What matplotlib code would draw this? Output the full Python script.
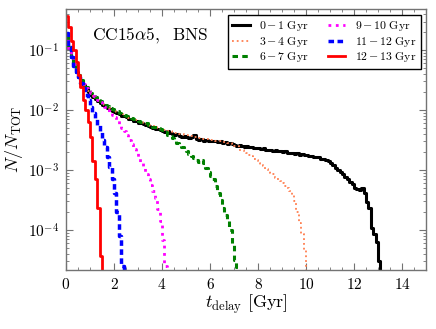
import numpy as np
import matplotlib
matplotlib.use("Agg")
import matplotlib.pyplot as plt
from matplotlib.ticker import FuncFormatter, MultipleLocator, LogLocator, NullFormatter

plt.rcParams['mathtext.fontset'] = 'cm'
plt.rcParams['font.family'] = ['DejaVu Serif']

bin_width = 0.1  # Gyr

labels = ['0-1', '3-4', '6-7', '9-10', '11-12', '12-13']

# histogram values, N/N_TOT in units of 1e-3, one value per 0.1 Gyr bin
age_0_1 = [178, 107, 76, 56, 44, 36, 30, 26, 23, 20,
           18.2, 16.6, 15.5, 14.1, 13.2, 12.3, 11.7, 11.0, 10.5, 9.8,
           9.3, 8.9, 8.7, 8.1, 7.9, 7.6, 7.2, 7.1, 6.6, 6.5,
           6.2, 6.0, 5.8, 5.6, 5.5, 5.2, 5.1, 4.9, 4.8, 4.7,
           4.4, 4.3, 4.4, 4.1, 4.0, 3.9, 4.0, 3.7, 3.6, 3.7,
           3.5, 3.4, 3.5, 3.9, 3.3, 3.2, 3.3, 3.1, 3.2, 3.0,
           3.1, 3.0, 3.0, 2.9, 3.0, 2.85, 2.9, 2.75, 2.8, 2.7,
           2.6, 2.55, 2.6, 2.5, 2.45, 2.5, 2.4, 2.45, 2.35, 2.3,
           2.35, 2.25, 2.3, 2.2, 2.15, 2.2, 2.1, 2.15, 2.05, 2.05,
           2.0, 2.05, 1.95, 1.9, 1.95, 1.85, 1.9, 1.8, 1.85, 1.75,
           1.78, 1.72, 1.74, 1.68, 1.62, 1.65, 1.55, 1.5, 1.45, 1.4,
           1.3, 1.2, 1.1, 1.0, 0.93, 0.85, 0.76, 0.72, 0.62, 0.58,
           0.5, 0.48, 0.46, 0.5, 0.42, 0.29, 0.23, 0.11, 0.085, 0.062,
           0.03]
age_3_4 = [170, 110, 78, 58, 46, 37, 31, 27, 23.5, 21,
           19, 17.2, 16, 14.8, 13.8, 12.8, 12.1, 11.4, 10.8, 10.2,
           9.7, 9.3, 8.9, 8.5, 8.2, 7.8, 7.5, 7.3, 7.0, 6.8,
           6.5, 6.3, 6.1, 5.9, 5.7, 5.5, 5.4, 5.2, 5.0, 4.9,
           4.8, 4.6, 4.5, 4.4, 4.3, 4.2, 4.1, 4.0, 3.95, 3.85,
           3.8, 3.7, 3.65, 3.6, 3.5, 3.45, 3.4, 3.35, 3.3, 3.25,
           3.2, 3.15, 3.1, 3.05, 3.0, 2.95, 2.9, 2.85, 2.8, 2.7,
           2.55, 2.5, 2.2, 2.15, 2.0, 1.95, 1.8, 1.7, 1.55, 1.45,
           1.3, 1.2, 1.15, 1.05, 0.95, 0.9, 0.85, 0.75, 0.7, 0.65,
           0.6, 0.55, 0.5, 0.45, 0.38, 0.3, 0.2, 0.13, 0.085, 0.047]
age_6_7 = [175, 112, 80, 59, 47, 38, 32, 27, 24, 21.5,
           19.5, 17.5, 16.5, 15, 14, 13, 12.3, 11.6, 11, 10.4,
           9.9, 9.5, 9.0, 8.7, 8.3, 8.0, 7.6, 7.4, 7.1, 6.9,
           6.6, 6.4, 6.2, 6.0, 5.7, 5.5, 5.3, 5.2, 5.0, 4.8,
           4.6, 4.3, 3.9, 3.63, 3.39, 3.09, 2.82, 2.63, 2.4, 2.24,
           2.04, 1.86, 1.74, 1.58, 1.48, 1.35, 1.45, 1.3, 1.07, 0.93,
           0.81, 0.71, 0.54, 0.41, 0.32, 0.23, 0.18, 0.14, 0.10, 0.056,
           0.032, 0.024]
age_9_10 = [185, 110, 78, 58, 46, 37, 31, 27, 23.5, 21,
            19, 17.2, 16, 14.8, 13.8, 12.8, 11.2, 10.0, 9.1, 8.3,
            7.6, 6.8, 5.9, 5.1, 4.5, 3.8, 3.2, 2.7, 2.24, 1.9,
            1.58, 1.32, 1.07, 0.87, 0.71, 0.56, 0.45, 0.34, 0.22, 0.14,
            0.068, 0.025]
age_11_12 = [190, 112, 76, 55, 43, 35, 28, 23, 18.2, 14.5,
             11.2, 8.9, 7.1, 5.6, 4.3, 3.2, 2.4, 1.66, 1.12, 0.71,
             0.41, 0.2, 0.079, 0.025]
age_12_13 = [370, 240, 141, 100, 63, 38, 24, 15, 10, 6.3,
             3.5, 1.4, 0.71, 0.23, 0.037]

series = [age_0_1, age_3_4, age_6_7, age_9_10, age_11_12, age_12_13]
colors = ['black', 'coral', 'green', 'magenta', 'blue', 'red']
styles = ['-', ':', (0, (1.8, 1.4)), ':', (0, (1.6, 1.0)), '-']
widths = [2.2, 1.3, 2.2, 2.0, 2.5, 2.0]

fig = plt.figure(figsize=(4.36, 3.29), dpi=100)
ax = fig.add_axes([0.1514, 0.1793, 0.8257, 0.7924])

for vals, lab, c, ls, lw in zip(series, labels, colors, styles, widths):
    v = np.asarray(vals, dtype=float) * 1e-3
    edges = np.arange(len(v) + 1) * bin_width
    y = np.append(v, 1e-9)
    a, b = lab.split('-')
    ax.plot(edges, y, drawstyle='steps-post', color=c, ls=ls, lw=lw,
            label=r'$%s\,{-}\,%s\ \mathrm{Gyr}$' % (a, b))

ax.set_yscale('log')
ax.set_xlim(0, 15)
ax.set_ylim(2.15e-5, 0.48)

ax.xaxis.set_major_locator(MultipleLocator(2))
ax.xaxis.set_minor_locator(MultipleLocator(0.5))
ax.xaxis.set_major_formatter(FuncFormatter(lambda v, p: r'$%d$' % round(v)))
ax.yaxis.set_major_locator(LogLocator(base=10, numticks=10))
ax.yaxis.set_minor_locator(LogLocator(base=10, subs=np.arange(2, 10), numticks=20))
ax.yaxis.set_minor_formatter(NullFormatter())
ax.yaxis.set_major_formatter(FuncFormatter(lambda v, p: r'$10^{%d}$' % round(np.log10(v))))

spine_col = '0.45'
for s in ax.spines.values():
    s.set_color(spine_col)
    s.set_linewidth(1.0)
ax.tick_params(which='both', direction='in', top=True, right=True, color=spine_col,
               labelsize=11)
ax.tick_params(which='major', length=5, width=0.8, pad=5)
ax.tick_params(which='minor', length=2.5, width=0.6)

ax.set_xlabel(r'$t_{\mathrm{delay}}\ [\mathrm{Gyr}]$', fontsize=13, labelpad=0)
ax.set_ylabel(r'$N/N_{\mathrm{TOT}}$', fontsize=13, labelpad=2)

ax.text(0.072, 0.882, r'$\mathrm{CC15}\alpha\mathrm{5},\ \ \mathrm{BNS}$',
        transform=ax.transAxes, fontsize=12.5, ha='left', va='baseline')

leg = ax.legend(loc='upper right', bbox_to_anchor=(0.985, 0.979), borderaxespad=0,
                ncol=2, fontsize=8.5, fancybox=False, framealpha=1,
                edgecolor='black', handlelength=1.5, columnspacing=1.6,
                labelspacing=0.15, borderpad=0.35, handletextpad=0.8)
leg.get_frame().set_linewidth(1.0)

fig.savefig('out.png', dpi=100)
